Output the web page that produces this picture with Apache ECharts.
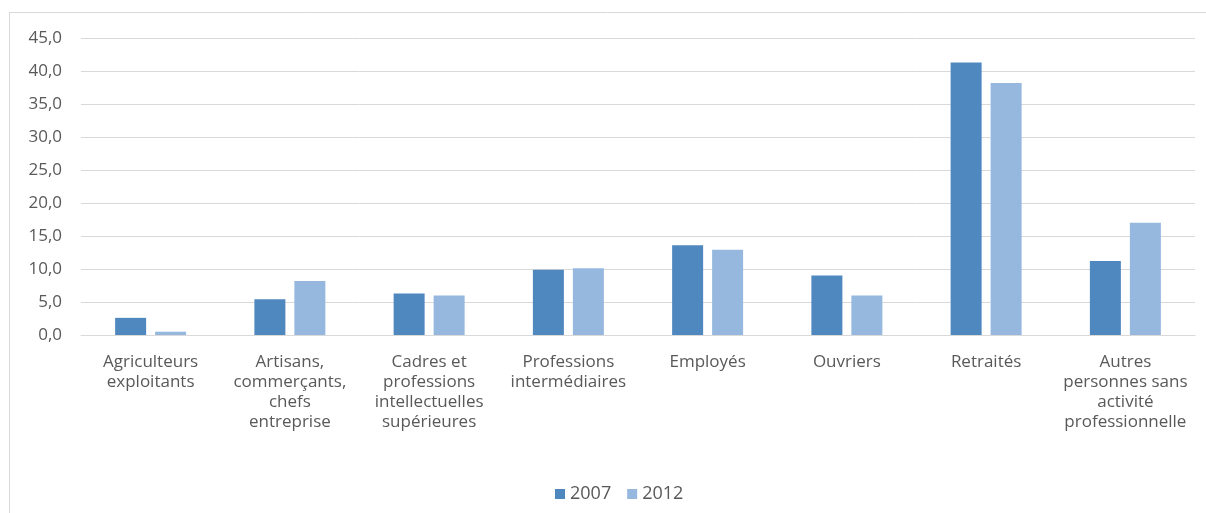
<!DOCTYPE html>
<html lang="fr">
<head>
<meta charset="utf-8">
<title>Catégories socioprofessionnelles 2007 / 2012</title>
<script src="https://cdn.jsdelivr.net/npm/echarts@6/dist/echarts.min.js"></script>
<style>
  html, body { margin: 0; padding: 0; background: #ffffff; }
  #chart { width: 1206px; height: 513px; }
</style>
</head>
<body>
<div id="chart"></div>
<script>
// Socio-professional categories (line breaks as laid out under the axis)
const categories = [
  'Agriculteurs\nexploitants',
  'Artisans,\ncommerçants,\nchefs\nentreprise',
  'Cadres et\nprofessions\nintellectuelles\nsupérieures',
  'Professions\nintermédiaires',
  'Employés',
  'Ouvriers',
  'Retraités',
  'Autres\npersonnes sans\nactivité\nprofessionnelle'
];

const seriesNames = ['2007', '2012'];
const values2007 = [2.6, 5.4, 6.3, 9.9, 13.6, 9.0, 41.3, 11.2];
const values2012 = [0.5, 8.2, 6.0, 10.1, 12.9, 6.0, 38.2, 17.0];

const yTicks = { min: 0, max: 45, interval: 5 };

const textColor = '#595959';
const gridColor = '#d9d9d9';
const fontFamily = '"Open Sans", "Noto Sans", sans-serif';

const chart = echarts.init(document.getElementById('chart'), null, { renderer: 'canvas' });

chart.setOption({
  animation: false,
  backgroundColor: '#ffffff',
  textStyle: { fontFamily: fontFamily },
  graphic: [
    { type: 'line', silent: true, shape: { x1: 9, y1: 12.5, x2: 1206, y2: 12.5 },
      style: { stroke: gridColor, lineWidth: 1 } },
    { type: 'line', silent: true, shape: { x1: 9.5, y1: 12, x2: 9.5, y2: 513 },
      style: { stroke: gridColor, lineWidth: 1 } }
  ],
  grid: { left: 81, right: 11, top: 38, bottom: 178, containLabel: false },
  legend: {
    data: seriesNames,
    left: 550,
    top: 480,
    itemWidth: 10,
    itemHeight: 10,
    itemGap: 16,
    icon: 'rect',
    textStyle: { color: textColor, fontSize: 18, fontFamily: fontFamily }
  },
  xAxis: {
    type: 'category',
    data: categories,
    axisLine: { show: true, lineStyle: { color: gridColor, width: 1 } },
    axisTick: { show: false },
    axisLabel: {
      interval: 0,
      margin: 17,
      color: textColor,
      fontSize: 17,
      lineHeight: 20,
      fontFamily: fontFamily,
      align: 'center'
    }
  },
  yAxis: {
    type: 'value',
    min: yTicks.min,
    max: yTicks.max,
    interval: yTicks.interval,
    axisLine: { show: false },
    axisTick: { show: false },
    splitLine: { lineStyle: { color: gridColor, width: 1 } },
    axisLabel: {
      margin: 19,
      color: textColor,
      fontSize: 17,
      fontFamily: fontFamily,
      formatter: v => v.toFixed(1).replace('.', ',')
    }
  },
  series: [
    {
      name: seriesNames[0],
      type: 'bar',
      data: values2007,
      barWidth: 31,
      barGap: '29%',
      itemStyle: { color: '#4f87bf' }
    },
    {
      name: seriesNames[1],
      type: 'bar',
      data: values2012,
      barWidth: 31,
      barGap: '29%',
      itemStyle: { color: '#96b8df' }
    }
  ]
});
</script>
</body>
</html>
